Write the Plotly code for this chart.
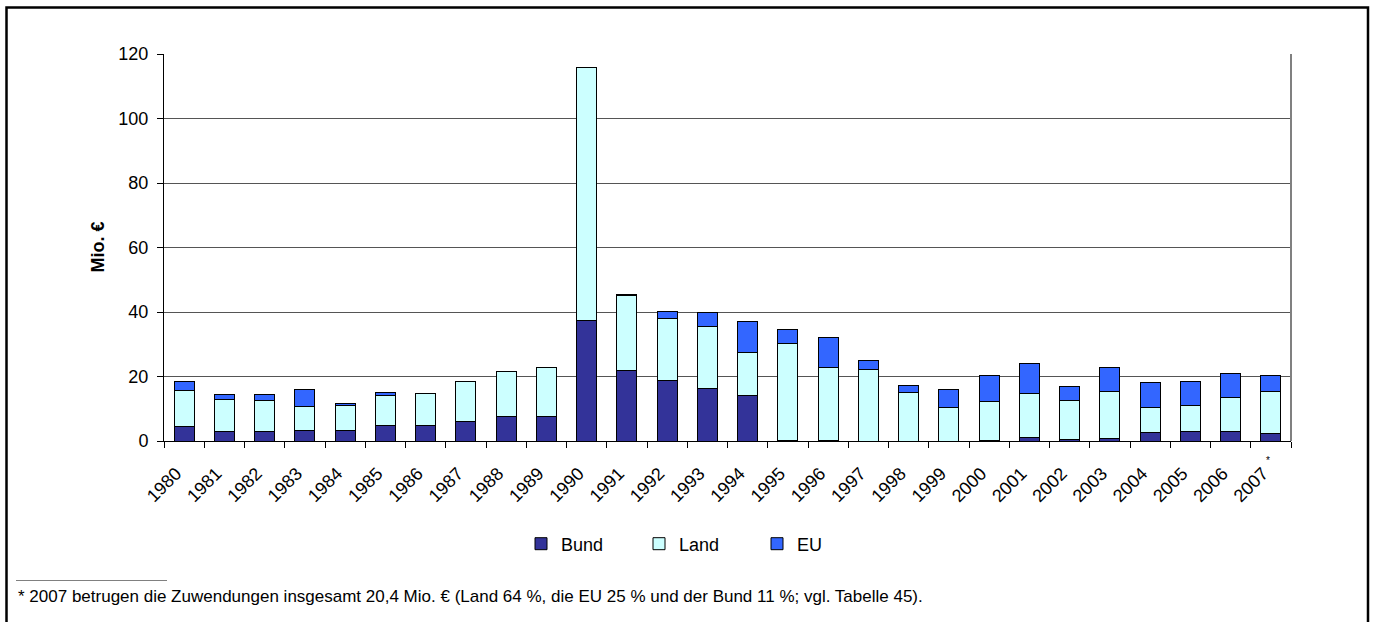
import plotly.graph_objects as go

years = [str(y) for y in range(1980, 2008)]
tick_labels = years[:]
bund = [4.4, 2.9, 2.9, 3.2, 3.4, 4.8, 4.8, 5.9, 7.5, 7.5, 37.4, 21.8, 18.7, 16.3, 14.1,
        0.2, 0.2, 0.0, 0.0, 0.0, 0.3, 1.0, 0.4, 0.9, 2.5, 3.1, 2.8, 2.2]
land = [11.3, 9.9, 9.6, 7.6, 7.6, 9.3, 9.9, 12.4, 13.9, 15.3, 78.4, 23.3, 19.2, 19.1, 13.2,
        29.9, 22.5, 22.1, 14.9, 10.4, 12.0, 13.7, 12.1, 14.3, 7.9, 8.0, 10.7, 13.1]
eu = [2.8, 1.5, 1.9, 5.2, 0.7, 0.8, 0.0, 0.0, 0.0, 0.0, 0.0, 0.2, 2.3, 4.3, 9.8,
      4.6, 9.3, 3.0, 2.4, 5.6, 7.9, 9.2, 4.3, 7.5, 7.6, 7.2, 7.3, 5.1]
series_names = ["Bund", "Land", "EU"]
series_colors = ["#333399", "#CCFFFF", "#3366FF"]
footnote = ("* 2007 betrugen die Zuwendungen insgesamt 20,4 Mio. € (Land 64 %, die EU 25 % "
            "und der Bund 11 %; vgl. Tabelle 45).")

FONT = "Liberation Sans, Arial, sans-serif"

# plot area geometry (px)
L, R, T, B = 164, 1291, 54, 441
W, H = 1374, 622
pw, ph = R - L, B - T


def px(x):
    return (x - L) / pw


def py(y):
    return (B - y) / ph


fig = go.Figure()
for name, vals, col in zip(series_names, [bund, land, eu], series_colors):
    fig.add_trace(go.Bar(
        x=years, y=vals, name=name,
        marker=dict(color=col, line=dict(color="black", width=1)),
    ))

fig.update_layout(
    barmode="stack",
    bargap=0.5,
    width=W, height=H,
    margin=dict(l=L, r=W - R, t=T, b=H - B, pad=0),
    paper_bgcolor="white",
    plot_bgcolor="white",
    font=dict(family=FONT, size=18, color="black"),
    showlegend=True,
    legend=dict(
        orientation="h",
        x=px(521), y=py(544), xanchor="left", yanchor="middle",
        font=dict(size=18),
        entrywidth=73, entrywidthmode="pixels",
        traceorder="normal",
    ),
    xaxis=dict(
        type="category",
        range=[-0.5, len(years) - 0.5], autorange=False,
        tickmode="array", tickvals=years, ticktext=tick_labels,
        tickangle=-45,
        ticks="outside", ticklen=6, tickcolor="black", tickson="boundaries",
        ticklabelstandoff=14, ticklabelshift=-8,
        showline=True, linecolor="black", linewidth=1,
        showgrid=False,
        tickfont=dict(size=18),
    ),
    yaxis=dict(
        range=[0, 120], dtick=20, autorange=False,
        ticks="outside", ticklen=6, tickcolor="black",
        ticklabelstandoff=5,
        showline=True, linecolor="black", linewidth=1,
        showgrid=True, gridcolor="#555555", gridwidth=1,
        zeroline=False,
        tickfont=dict(size=18),
    ),
    shapes=[
        # outer frame
        dict(type="rect", xref="paper", yref="paper",
             x0=px(6.5), x1=px(1368), y0=py(640), y1=py(7.5),
             line=dict(color="black", width=2.5), fillcolor="rgba(0,0,0,0)", layer="below"),
        # right edge of plot area
        dict(type="line", xref="paper", yref="paper", x0=1, x1=1, y0=0, y1=1,
             line=dict(color="#808080", width=2)),
        # footnote rule
        dict(type="line", xref="paper", yref="paper",
             x0=px(16), x1=px(167), y0=py(580.5), y1=py(580.5),
             line=dict(color="#808080", width=1)),
    ],
    annotations=[
        dict(text="<b>Mio. €</b>", textangle=-90, xref="paper", yref="paper",
             x=px(97), y=0.5, xanchor="center", yanchor="middle", showarrow=False,
             font=dict(size=18)),
        dict(text="*", xref="x", yref="paper", x=len(years) - 1, y=py(468),
             xshift=-3, showarrow=False, font=dict(size=10)),
        dict(text=footnote, xref="paper", yref="paper", x=px(16), y=py(596),
             xanchor="left", yanchor="middle", showarrow=False, font=dict(size=17)),
    ],
)

fig.write_html("out.html", config={"displayModeBar": False},
               post_script="document.body.style.margin='0';")
